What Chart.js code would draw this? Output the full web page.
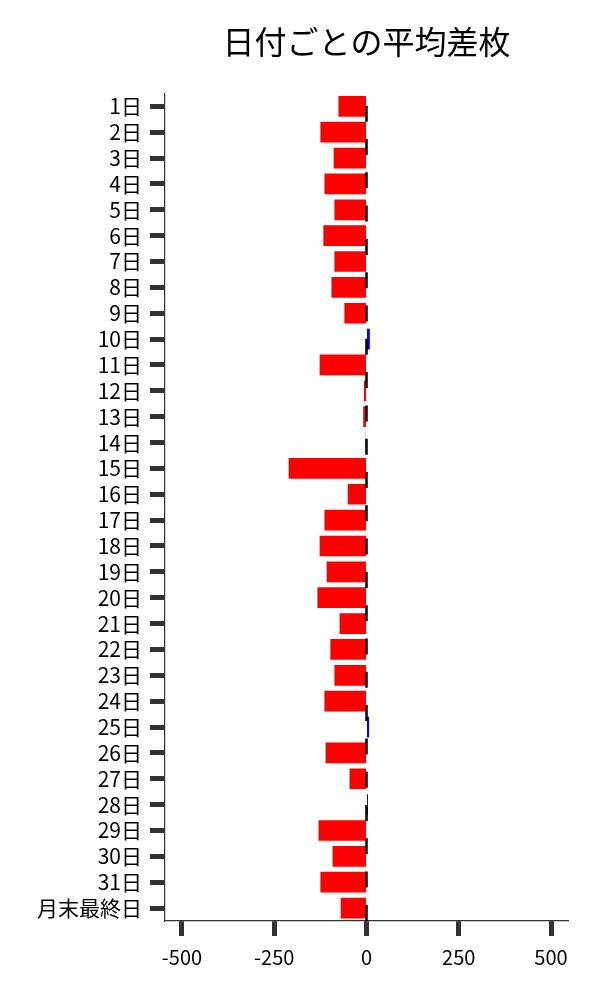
<!DOCTYPE html>
<html>
<head>
<meta charset="utf-8">
<script src="https://cdn.jsdelivr.net/npm/chart.js@4"></script>
<style>
  html, body { margin: 0; padding: 0; background: #fff; }
  #wrap { width: 600px; height: 1000px; }
</style>
</head>
<body>
<div id="wrap"><canvas id="diffChart"></canvas></div>
<script>
// 日付ごとの平均差枚
const days = ['1日', '2日', '3日', '4日', '5日', '6日', '7日', '8日', '9日', '10日',
    '11日', '12日', '13日', '14日', '15日', '16日', '17日', '18日', '19日', '20日',
    '21日', '22日', '23日', '24日', '25日', '26日', '27日', '28日', '29日', '30日',
    '31日', '月末最終日'];
const avgDiff = [-76, -125, -89, -114, -87, -117, -87, -95, -60, 9,
    -127, -7, -9, -2, -211, -51, -114, -127, -108, -133,
    -73, -98, -87, -114, 7, -111, -46, 4, -130, -92,
    -125, -70];
const xTicks = [-500, -250, 0, 250, 500];
const xRange = [-546, 546];

const FONT = "'Noto Sans CJK JP', 'Noto Sans', sans-serif";

// dashed zero line, drawn over the bars
const zeroLine = {
    id: 'zeroLine',
    afterDatasetsDraw(chart) {
        const { ctx, chartArea, scales } = chart;
        const x = scales.x.getPixelForValue(0);
        ctx.save();
        ctx.strokeStyle = '#000';
        ctx.lineWidth = 2.5;
        ctx.setLineDash([16, 17.3]);
        ctx.lineDashOffset = 21;
        ctx.beginPath();
        ctx.moveTo(x, chartArea.top);
        ctx.lineTo(x, chartArea.bottom);
        ctx.stroke();
        ctx.restore();
    }
};

new Chart(document.getElementById('diffChart').getContext('2d'), {
    type: 'bar',
    data: {
        labels: days,
        datasets: [{
            data: avgDiff,
            backgroundColor: avgDiff.map(v => v >= 0 ? '#0000ff' : '#ff0000'),
            borderWidth: 0,
            barPercentage: 1,
            categoryPercentage: 0.8
        }]
    },
    options: {
        indexAxis: 'y',
        responsive: true,
        maintainAspectRatio: false,
        animation: false,
        layout: { padding: { left: 0, right: 32, top: 0, bottom: 0 } },
        plugins: {
            legend: { display: false },
            tooltip: { enabled: false },
            title: {
                display: true,
                text: '日付ごとの平均差枚',
                fullSize: false,
                color: '#000',
                font: { family: FONT, size: 32, weight: 'normal' },
                padding: { top: 23, bottom: 32 }
            }
        },
        scales: {
            x: {
                min: xRange[0],
                max: xRange[1],
                afterBuildTicks: scale => { scale.ticks = xTicks.map(v => ({ value: v })); },
                afterFit: scale => { scale.height = 79; },
                grid: {
                    drawOnChartArea: false,
                    drawTicks: true,
                    tickLength: 15,
                    tickWidth: 5,
                    tickColor: '#333'
                },
                border: { display: true, color: '#333', width: 1.2 },
                ticks: {
                    color: '#000',
                    padding: 9,
                    font: { family: FONT, size: 20 },
                    maxRotation: 0
                }
            },
            y: {
                afterFit: scale => { scale.width = 165; },
                grid: {
                    offset: false,
                    drawOnChartArea: false,
                    drawTicks: true,
                    tickLength: 15,
                    tickWidth: 5,
                    tickColor: '#333'
                },
                border: { display: true, color: '#333', width: 1.2 },
                ticks: {
                    color: '#000',
                    padding: 8,
                    autoSkip: false,
                    font: { family: FONT, size: 21 }
                }
            }
        }
    },
    plugins: [zeroLine]
});
</script>
</body>
</html>
